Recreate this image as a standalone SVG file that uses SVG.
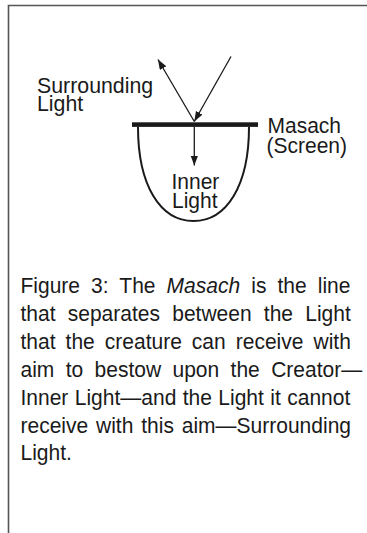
<svg xmlns="http://www.w3.org/2000/svg" width="367" height="533" viewBox="0 0 367 533">
  <style>
    .t { font-family: "Liberation Sans", Arial, sans-serif; font-size: 22px; fill: #1a1a1a; }
    .ln { stroke: #1a1a1a; stroke-width: 1.3; fill: none; }
    .frame { stroke: #555; stroke-width: 1.6; fill: none; }
  </style>
  <defs>
    <marker id="ah" markerUnits="userSpaceOnUse" markerWidth="11" markerHeight="8" refX="10" refY="3.75" orient="auto">
      <path d="M0,0 L10,3.75 L0,7.5 Z" fill="#1a1a1a"/>
    </marker>
  </defs>
  <g id="frame">
    <path class="frame" d="M8.5,533 V5.5 H367"/>
  </g>
  <g id="vessel">
    <path d="M138,127 C138,185 160,221 193.5,221 C227,221 249,185 249,127" stroke="#1a1a1a" stroke-width="2" fill="none"/>
  </g>
  <g id="masach">
    <rect x="132" y="122.3" width="126" height="4.6" fill="#1a1a1a"/>
  </g>
  <g id="connectors">
    <line class="ln" x1="231" y1="56.5" x2="194.3" y2="121.5" marker-end="url(#ah)"/>
    <line class="ln" x1="194.3" y1="121.5" x2="158" y2="59.5" marker-end="url(#ah)"/>
    <line class="ln" x1="194.3" y1="127" x2="194.3" y2="165.5" marker-end="url(#ah)"/>
  </g>
  <g id="label-surrounding">
    <text class="t" transform="translate(37,92.5) scale(0.97,1)">Surrounding</text>
    <text class="t" transform="translate(37,111) scale(0.97,1)">Light</text>
  </g>
  <g id="label-masach">
    <text class="t" transform="translate(267.5,133.3) scale(0.955,1)">Masach</text>
    <text class="t" transform="translate(266.5,152.5) scale(0.955,1)">(Screen)</text>
  </g>
  <g id="label-inner">
    <text class="t" transform="translate(171.5,189.3) scale(0.955,1)">Inner</text>
    <text class="t" transform="translate(172,207.5) scale(0.955,1)">Light</text>
  </g>
  <g id="caption">
    <text class="t" transform="translate(20.5,293.3) scale(0.955,1)" word-spacing="5.5">Figure 3: The <tspan font-style="italic">Masach</tspan> is the line</text>
    <text class="t" transform="translate(20.5,321.3) scale(0.955,1)" word-spacing="6.7">that separates between the Light</text>
    <text class="t" transform="translate(20.5,349.1) scale(0.955,1)" word-spacing="4.4">that the creature can receive with</text>
    <text class="t" transform="translate(20.5,377) scale(0.955,1)" word-spacing="5.8">aim to bestow upon the Creator—</text>
    <text class="t" transform="translate(20.5,404.8) scale(0.955,1)" word-spacing="0.6">Inner Light—and the Light it cannot</text>
    <text class="t" transform="translate(20.5,432.6) scale(0.955,1)" word-spacing="2.1">receive with this aim—Surrounding</text>
    <text class="t" transform="translate(20.5,460.4) scale(0.955,1)">Light.</text>
  </g>
</svg>
